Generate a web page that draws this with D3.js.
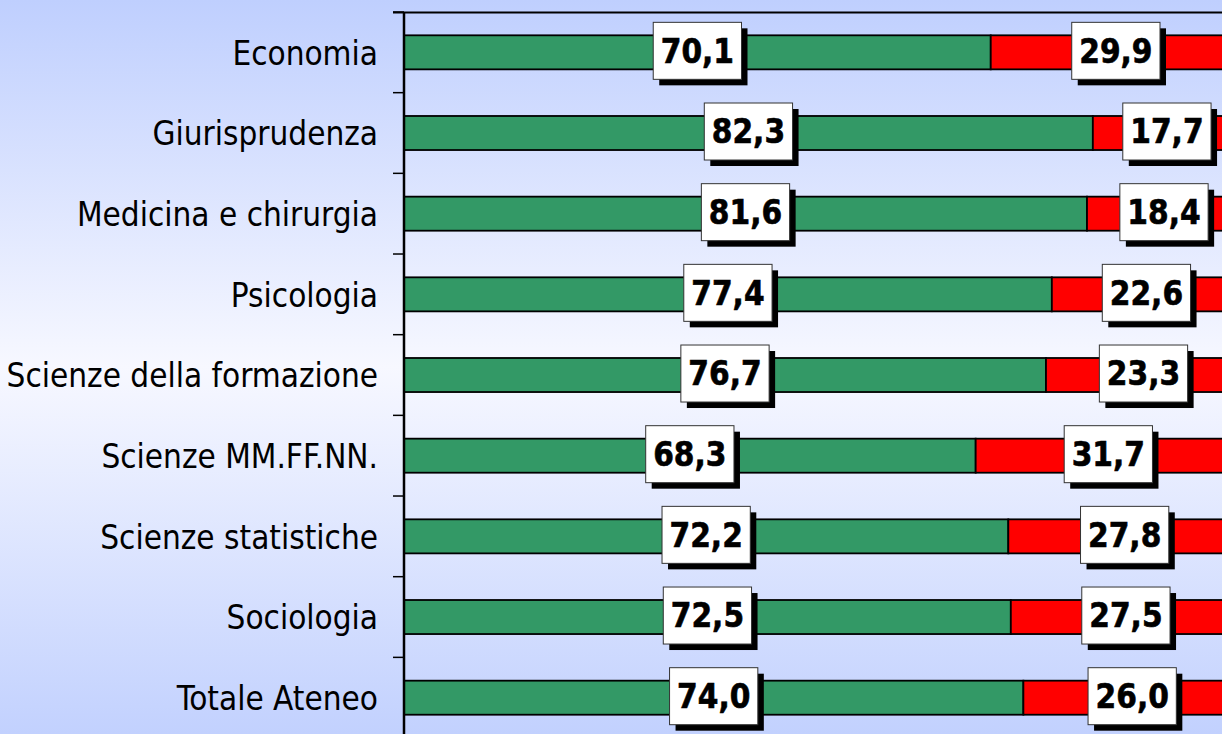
<!DOCTYPE html>
<html>
<head>
<meta charset="utf-8">
<script src="https://cdn.jsdelivr.net/npm/d3@7"></script>
<style>
	html, body { margin: 0; padding: 0; overflow: hidden; }
	svg { display: block; }
</style>
</head>
<body>
<div id="main"></div>
<script>
// categories and values (percentages)
let categories = ["Economia", "Giurisprudenza", "Medicina e chirurgia", "Psicologia",
	"Scienze della formazione", "Scienze MM.FF.NN.", "Scienze statistiche", "Sociologia", "Totale Ateneo"];
let green_values = [70.1, 82.3, 81.6, 77.4, 76.7, 68.3, 72.2, 72.5, 74.0];
let red_values = [29.9, 17.7, 18.4, 22.6, 23.3, 31.7, 27.8, 27.5, 26.0];
let series_colors = ["#339966", "#ff0000"];

let width = 1222, height = 734;
let font = "'DejaVu Sans Condensed', 'DejaVu Sans', sans-serif";

let svg = d3.select("#main").append("svg")
	.attr("width", width).attr("height", height);

// background gradient: blue at top and bottom, almost white in the middle
let grad = svg.append("defs").append("linearGradient")
	.attr("id", "bg").attr("x1", 0).attr("y1", 0).attr("x2", 0).attr("y2", 1);
grad.append("stop").attr("offset", "0%").attr("stop-color", "#bfcffe");
grad.append("stop").attr("offset", "50%").attr("stop-color", "#f7f8ff");
grad.append("stop").attr("offset", "100%").attr("stop-color", "#c2d1fe");
svg.append("rect").attr("width", width).attr("height", height).attr("fill", "url(#bg)");

let x = d3.scaleLinear().domain([0, 100]).range([404, 1241]);
let y = d3.scaleBand().domain(categories)
	.range([12, 12 + 80.67 * categories.length])
	.paddingInner(0.578).paddingOuter(0.289);

// stacked data
let rows = categories.map(function (c, i) {
	return {cat: c, parts: [
		{x0: 0, x1: green_values[i], v: green_values[i], s: 0},
		{x0: green_values[i], x1: green_values[i] + red_values[i], v: red_values[i], s: 1}
	]};
});

let g = svg.append("g");

// top border of plot area
g.append("line")
	.attr("x1", 393).attr("x2", width).attr("y1", 12.5).attr("y2", 12.5)
	.attr("stroke", "#000").attr("stroke-width", 2);

// bars
let bar_rows = g.selectAll(".row").data(rows).enter().append("g").attr("class", "row");
bar_rows.selectAll("rect").data(function (d) {
	return d.parts.map(function (p) { return Object.assign({cat: d.cat}, p); });
}).enter().append("rect")
	.attr("x", function (d) { return x(d.x0); })
	.attr("y", function (d) { return y(d.cat); })
	.attr("width", function (d) { return x(d.x1) - x(d.x0); })
	.attr("height", y.bandwidth())
	.attr("fill", function (d) { return series_colors[d.s]; })
	.attr("stroke", "#000").attr("stroke-width", 1.8);

// category axis with ticks between categories
let step = y.step();
let tick_pos = categories.map(function (c) { return y(c) - y.paddingInner() * step / 2; });
g.selectAll(".cat_tick").data(tick_pos).enter().append("line")
	.attr("class", "cat_tick")
	.attr("x1", 393).attr("x2", 404)
	.attr("y1", function (d) { return d; }).attr("y2", function (d) { return d; })
	.attr("stroke", "#000").attr("stroke-width", 1.5);
g.append("line")
	.attr("x1", 404).attr("x2", 404).attr("y1", 12).attr("y2", height)
	.attr("stroke", "#000").attr("stroke-width", 2.5);

g.selectAll(".cat_label").data(categories).enter().append("text")
	.attr("class", "cat_label")
	.attr("x", 378)
	.attr("y", function (d) { return y(d) + y.bandwidth() / 2; })
	.attr("dy", "0.37em")
	.attr("text-anchor", "end")
	.style("font-family", font).style("font-size", "33px").style("fill", "#000")
	.text(function (d) { return d; });

// value labels in boxes with a drop shadow
let labels = [];
rows.forEach(function (r) {
	r.parts.forEach(function (p) {
		labels.push({cat: r.cat, cx: x((p.x0 + p.x1) / 2), text: d3.format(".1f")(p.v).replace(".", ",")});
	});
});
let lab = g.selectAll(".val").data(labels).enter().append("g").attr("class", "val")
	.attr("transform", function (d) {
		return "translate(" + d.cx + "," + (y(d.cat) + y.bandwidth() / 2 - 1.5) + ")";
	});
let shadow = lab.append("rect").attr("fill", "#000");
let box = lab.append("rect").attr("fill", "#fff").attr("stroke", "#333").attr("stroke-width", 1);
let txt = lab.append("text")
	.attr("text-anchor", "middle").attr("dy", "0.36em")
	.style("font-family", font).style("font-size", "33px").style("font-weight", "bold")
	.style("fill", "#000").style("stroke", "#000").style("stroke-width", 0.6)
	.text(function (d) { return d.text; });
lab.each(function () {
	let node = d3.select(this);
	let w = node.select("text").node().getBBox().width + 15;
	let h = 57;
	node.selectAll("rect")
		.attr("x", -w / 2).attr("y", -h / 2).attr("width", w).attr("height", h);
	node.select("rect").attr("x", -w / 2 + 6).attr("y", -h / 2 + 6);
});
</script>
</body>
</html>
